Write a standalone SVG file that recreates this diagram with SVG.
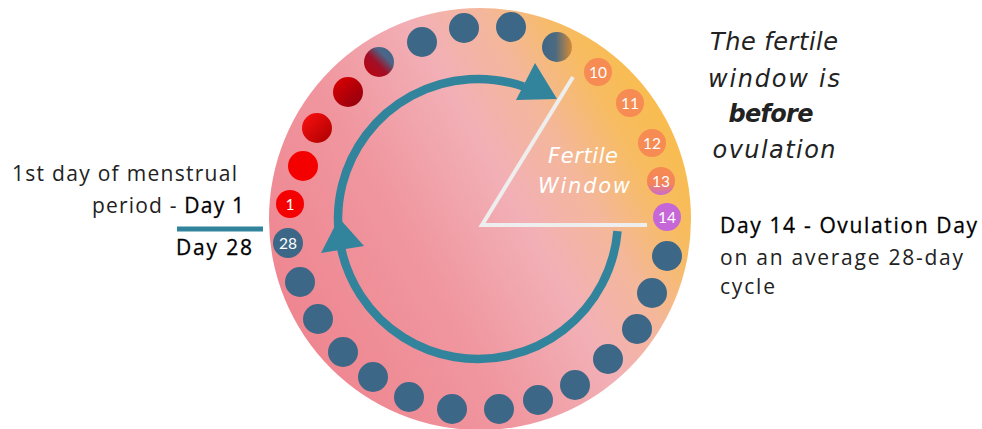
<svg xmlns="http://www.w3.org/2000/svg" width="982" height="429" viewBox="0 0 982 429">
<defs>
<linearGradient id="gDisc" x1="0" y1="0.78" x2="1" y2="0.22">
<stop offset="0" stop-color="#ee838d"/>
<stop offset="0.35" stop-color="#f0969f"/>
<stop offset="0.58" stop-color="#f2b0b6"/>
<stop offset="0.72" stop-color="#f4b79a"/>
<stop offset="0.84" stop-color="#f7bc62"/>
<stop offset="1" stop-color="#f9bd42"/>
</linearGradient>
<linearGradient id="gD3" x1="0" y1="0" x2="1" y2="1">
<stop offset="0" stop-color="#ff1010"/>
<stop offset="1" stop-color="#a80000"/>
</linearGradient>
<linearGradient id="gD4" x1="0" y1="0" x2="1" y2="1">
<stop offset="0" stop-color="#e00000"/>
<stop offset="1" stop-color="#8a0010"/>
</linearGradient>
<linearGradient id="gD5" x1="0" y1="1" x2="1" y2="0">
<stop offset="0" stop-color="#c00008"/>
<stop offset="0.45" stop-color="#a01028"/>
<stop offset="0.7" stop-color="#4a6688"/>
<stop offset="1" stop-color="#3d6787"/>
</linearGradient>
<linearGradient id="gD9" x1="0" y1="0" x2="1" y2="0">
<stop offset="0" stop-color="#3d6787"/>
<stop offset="0.45" stop-color="#4d6a80"/>
<stop offset="1" stop-color="#d58a35"/>
</linearGradient>
<linearGradient id="gD13" x1="0" y1="0" x2="0" y2="1">
<stop offset="0" stop-color="#f68a52"/>
<stop offset="0.6" stop-color="#f3845a"/>
<stop offset="1" stop-color="#c96ad0"/>
</linearGradient>
<style>
.blue{fill:#3d6787}
.red{fill:#f50000}
.orange{fill:#f68b53}
.purple{fill:#c667d7}
.num{font-family:Lato,"Liberation Sans",sans-serif;font-size:15.5px;fill:#ffffff;text-anchor:middle}
.txt{font-family:"Open Sans","DejaVu Sans",sans-serif;font-size:21px;fill:#222222}
.strong{fill:#000000;stroke:#000000;stroke-width:0.3}
.it{font-family:"DejaVu Sans",sans-serif;font-size:24px;font-style:italic;fill:#222222;text-anchor:middle}
.fw{font-family:"DejaVu Sans",sans-serif;font-size:21px;font-style:italic;fill:#ffffff;text-anchor:middle}
.arrow{fill:none;stroke:#31849b;stroke-width:8.5}
.head{fill:#31849b}
.wline{stroke:#eeeeee;stroke-width:4;fill:none}
</style>
</defs>

<g id="disc">
<circle cx="480" cy="219" r="211" fill="url(#gDisc)"/>
</g>

<g id="fertile-window">
<polyline class="wline" points="573,77 482,225 647,225"/>
<text class="fw" x="583" y="163" textLength="70">Fertile</text>
<text class="fw" x="584" y="193" textLength="92">Window</text>
</g>

<g id="connectors">
<path class="arrow" d="M 617.5 231.2 A 140 140 0 1 1 523.6 86.6"/>
<polygon class="head" points="557,99 535,63 516,100"/>
<polygon class="head" points="339,218 321,253 364,246"/>
<line x1="177" y1="229" x2="263" y2="229" stroke="#31849b" stroke-width="5"/>
</g>

<g id="day1"><circle class="red" cx="290" cy="204" r="14"/><text class="num" x="290" y="209.5">1</text></g>
<g id="day2"><circle class="red" cx="303" cy="166" r="15"/></g>
<g id="day3"><circle cx="317" cy="128" r="15" fill="url(#gD3)"/></g>
<g id="day4"><circle cx="348" cy="92" r="15" fill="url(#gD4)"/></g>
<g id="day5"><circle cx="379" cy="62" r="15" fill="url(#gD5)"/></g>
<g id="day6"><circle class="blue" cx="422" cy="42" r="15"/></g>
<g id="day7"><circle class="blue" cx="464" cy="28" r="15"/></g>
<g id="day8"><circle class="blue" cx="511" cy="27" r="15"/></g>
<g id="day9"><circle cx="557" cy="47" r="15" fill="url(#gD9)"/></g>
<g id="day10"><circle class="orange" cx="598" cy="72" r="14"/><text class="num" x="598" y="77.5">10</text></g>
<g id="day11"><circle class="orange" cx="630" cy="103" r="14"/><text class="num" x="630" y="108.5">11</text></g>
<g id="day12"><circle class="orange" cx="652" cy="143" r="14"/><text class="num" x="652" y="148.5">12</text></g>
<g id="day13"><circle cx="661" cy="181" r="14" fill="url(#gD13)"/><text class="num" x="661" y="186.5">13</text></g>
<g id="day14"><circle class="purple" cx="667" cy="217" r="14"/><text class="num" x="667" y="222.5">14</text></g>
<g id="day15"><circle class="blue" cx="667" cy="256" r="15"/></g>
<g id="day16"><circle class="blue" cx="652" cy="293" r="15"/></g>
<g id="day17"><circle class="blue" cx="637" cy="329" r="15"/></g>
<g id="day18"><circle class="blue" cx="608" cy="359" r="15"/></g>
<g id="day19"><circle class="blue" cx="575" cy="385" r="15"/></g>
<g id="day20"><circle class="blue" cx="538" cy="400" r="15"/></g>
<g id="day21"><circle class="blue" cx="499" cy="409" r="15"/></g>
<g id="day22"><circle class="blue" cx="452" cy="409" r="15"/></g>
<g id="day23"><circle class="blue" cx="409" cy="397" r="15"/></g>
<g id="day24"><circle class="blue" cx="373" cy="377" r="15"/></g>
<g id="day25"><circle class="blue" cx="343" cy="352" r="15"/></g>
<g id="day26"><circle class="blue" cx="318" cy="319" r="15"/></g>
<g id="day27"><circle class="blue" cx="300" cy="282" r="15"/></g>
<g id="day28"><circle class="blue" cx="288" cy="243" r="15"/><text class="num" x="288" y="248.5">28</text></g>

<g id="label-day1">
<text class="txt" x="12" y="181" textLength="225">1st day of menstrual</text>
<text class="txt" x="92" y="213" textLength="152">period - <tspan class="strong">Day 1</tspan></text>
</g>
<g id="label-day28">
<text class="txt strong" x="176" y="255" textLength="76">Day 28</text>
</g>
<g id="label-fertile">
<text class="it" x="774" y="50" textLength="128">The fertile</text>
<text class="it" x="774" y="87" textLength="132">window is</text>
<text class="it" x="771" y="122" font-weight="700" fill="#111111" textLength="85">before</text>
<text class="it" x="774" y="158" textLength="123">ovulation</text>
</g>
<g id="label-day14">
<text class="txt strong" x="720" y="233" textLength="257">Day 14 - Ovulation Day</text>
<text class="txt" x="720" y="265" textLength="243">on an average 28-day</text>
<text class="txt" x="720" y="294" textLength="55">cycle</text>
</g>
</svg>
